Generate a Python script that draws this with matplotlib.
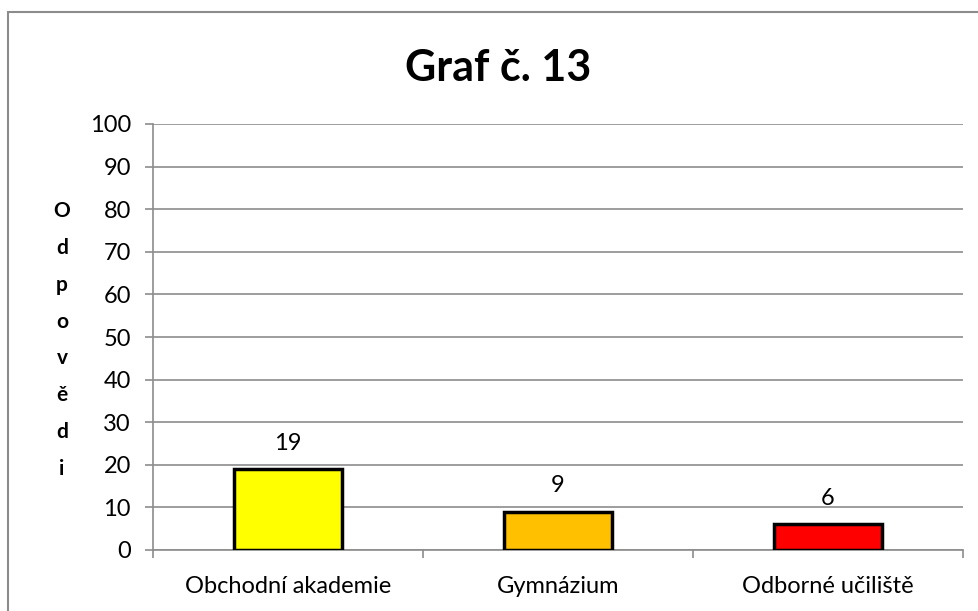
import matplotlib
matplotlib.use("Agg")
import matplotlib.pyplot as plt
from matplotlib.patches import Rectangle

# data
categories = ["Obchodní akademie", "Gymnázium", "Odborné učiliště"]
values = [19, 9, 6]
bar_colors = ["#FFFF00", "#FFC000", "#FF0000"]
yticks = list(range(0, 101, 10))

plt.rcParams['font.family'] = ['Lato', 'DejaVu Sans']

W, H = 979, 611
fig = plt.figure(figsize=(W / 100, H / 100), dpi=100)
ax = fig.add_axes([153 / W, (H - 550) / H, (963 - 153) / W, (550 - 124) / H])

x = list(range(len(categories)))
bars = ax.bar(x, values, width=0.4, color=bar_colors, edgecolor="black",
              linewidth=2.5, zorder=3)
for xi, v in zip(x, values):
    ax.annotate(str(v), (xi, v), xytext=(0, 11), textcoords="offset points",
                ha="center", va="bottom", fontsize=17)

ax.set_xlim(-0.5, len(categories) - 0.5)
ax.set_ylim(0, 100)
ax.set_yticks(yticks)
ax.tick_params(axis="y", labelsize=17, length=6, color="#8c8c8c", width=1.2, pad=10)
ax.grid(axis="y", color="#8c8c8c", linewidth=1.2, zorder=0)

# category labels centred, ticks at category boundaries
ax.set_xticks(x)
ax.set_xticklabels(categories, fontsize=17)
ax.tick_params(axis="x", length=0, pad=19)
ax.set_xticks([-0.5, 0.5, 1.5, 2.5], minor=True)
ax.tick_params(axis="x", which="minor", length=6, color="#8c8c8c", width=1.2)

for side in ["top", "right"]:
    ax.spines[side].set_visible(False)
for side in ["left", "bottom"]:
    ax.spines[side].set_color("#8c8c8c")
    ax.spines[side].set_linewidth(1.2)

fig.text(498 / W, (H - 68) / H, "Graf č. 13", ha="center", va="center",
         fontsize=31, fontweight="bold")

# vertical stacked axis title
fig.text(62 / W, (H - 340) / H, "\n".join("Odpovědi"), ha="center", va="center",
         fontsize=15, fontweight="bold", linespacing=2.05)

# chart area border (open to the right and bottom)
fig.patches.append(Rectangle((8 / W, -0.05), 1.1, (H - 12) / H + 0.05,
                             transform=fig.transFigure, fill=False,
                             edgecolor="#8c8c8c", linewidth=1.5))

fig.savefig("out.png", dpi=100)
